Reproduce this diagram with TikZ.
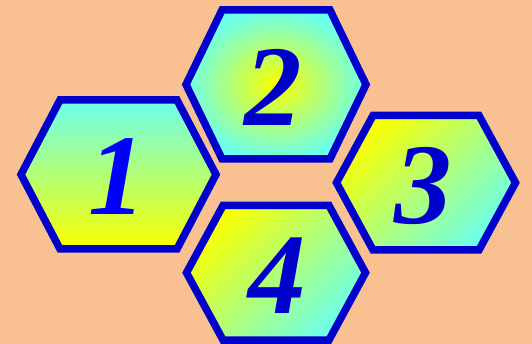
\documentclass[tikz,border=0pt]{standalone}
\usepackage{fontspec}
\setmainfont{Liberation Serif}
\usepackage{xcolor}
\usepackage{tikz}
\usetikzlibrary{calc}

\definecolor{bgpeach}{RGB}{249,192,145}
\definecolor{hexblue}{RGB}{0,0,204}
\definecolor{aqua}{RGB}{108,255,235}
\definecolor{lemon}{RGB}{250,255,0}

\begin{document}
\begin{tikzpicture}[
      x=1pt, y=-1pt,
      hexa/.style={draw=hexblue, line width=7.5pt, line join=miter},
      vshade/.style={hexa, top color=aqua, bottom color=lemon},
      rshade/.style={hexa, inner color=lemon, outer color=aqua},
      dshade/.style={hexa, top color=lemon, bottom color=aqua, shading angle=45},
      num/.style={font=\fontsize{115}{115}\selectfont\bfseries\itshape,
                  text=hexblue, inner sep=0pt},
    ]

    % Background
    \useasboundingbox (0,0) rectangle (532,344);
    \fill[bgpeach] (0,0) rectangle (532,344);

    % Hexagon 1 (left)
    \draw[vshade] (21,174.5) -- (60,100) -- (177,100) -- (216,174.5)
      -- (177,249) -- (60,249) -- cycle;
    \node[num, text=blue] (one) at (117,177) {1};

    % Hexagon 2 (top)
    \draw[rshade] (186,84.5) -- (222,10) -- (330,10) -- (366,84.5)
      -- (330,159) -- (222,159) -- cycle;
    \node[num] (two) at (273,87) {2};

    % Hexagon 3 (right)
    \draw[dshade] (336.5,182.7) -- (373,115.5) -- (479,115.5) -- (515.5,182.7)
      -- (479,250) -- (373,250) -- cycle;
    \node[num] (three) at (423,186) {3};

    % Hexagon 4 (bottom)
    \draw[dshade] (186.5,272.7) -- (223,205.5) -- (329,205.5) -- (365.5,272.7)
      -- (329,340) -- (223,340) -- cycle;
    \node[num] (four) at (277,276) {4};

\end{tikzpicture}
\end{document}
